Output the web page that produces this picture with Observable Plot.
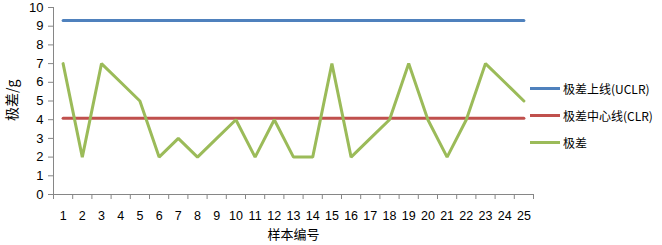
<!DOCTYPE html>
<html><head><meta charset="utf-8">
<script src="https://cdn.jsdelivr.net/npm/d3@7"></script>
<script src="https://cdn.jsdelivr.net/npm/@observablehq/plot@0.6"></script>
<style>
body{margin:0;background:#fff;font-family:"Liberation Sans","Noto Sans CJK SC",sans-serif;}
#wrap{position:relative;width:662px;height:245px;}
#legend{position:absolute;left:530px;top:75px;font-size:12px;color:#000;font-family:"Noto Sans CJK SC",sans-serif;}
.row{display:flex;align-items:center;height:27px;}
.sw{width:30px;height:3px;margin-right:3px;}
</style></head>
<body><div id="wrap"></div>
<script>
const samples = d3.range(1, 26);
const range = [7,2,7,6,5,2,3,2,3,4,2,4,2,2,7,2,3,4,7,4,2,4,7,6,5];
const uclr = 9.3;
const clr = 4.08;
const yTicks = [0,1,2,3,4,5,6,7,8,9,10];
const seriesNames = ["极差上线(UCLR)", "极差中心线(CLR)", "极差"];
const colors = ["#4F81BD", "#C0504D", "#9BBB59"];

const rows = samples.map((s, i) => ({s, v: range[i], u: uclr, c: clr}));
const gray = "#868686";

const chart = Plot.plot({
  width: 662, height: 245,
  marginLeft: 53, marginRight: 129, marginTop: 7, marginBottom: 51,
  style: {fontFamily: "Liberation Sans, sans-serif", fontSize: "12px", background: "white", overflow: "visible"},
  x: {domain: [0.5, 25.5], label: null},
  y: {domain: [0, 10], label: null},
  marks: [
    Plot.ruleY([0], {stroke: gray}),
    Plot.ruleX([0.5], {stroke: gray}),
    Plot.axisY(yTicks, {tickSize: 5, tickPadding: 5, stroke: gray, fill: "#000", fontSize: 13, tickFormat: d => d, label: null}),
    Plot.axisX(d3.range(0.5, 26, 1), {tickSize: 5, tickFormat: () => "", stroke: gray, label: null}),
    Plot.axisX(samples, {tickSize: 0, tickPadding: 17, fill: "#000", fontSize: 12.5, label: null}),
    Plot.lineY(rows, {x: "s", y: "u", stroke: colors[0], strokeWidth: 3}),
    Plot.lineY(rows, {x: "s", y: "c", stroke: colors[1], strokeWidth: 3}),
    Plot.lineY(rows, {x: "s", y: "v", stroke: colors[2], strokeWidth: 3, strokeLinejoin: "miter"}),
    Plot.text(["样本编号"], {frameAnchor: "bottom", dy: 44, fontSize: 13, fontFamily: "Noto Sans CJK SC", fill: "#000"}),
    Plot.text(["极差/g"], {frameAnchor: "left", dx: -41, dy: 20, rotate: -90, fontSize: 14, fontFamily: "Noto Sans CJK SC", fill: "#000"})
  ]
});
document.getElementById("wrap").appendChild(chart);
const lg = document.createElement("div");
lg.id = "legend";
seriesNames.forEach((n, i) => {
  const r = document.createElement("div"); r.className = "row";
  const sw = document.createElement("div"); sw.className = "sw"; sw.style.background = colors[i];
  const t = document.createElement("span"); t.textContent = n;
  r.appendChild(sw); r.appendChild(t); lg.appendChild(r);
});
document.getElementById("wrap").appendChild(lg);
</script></body></html>
